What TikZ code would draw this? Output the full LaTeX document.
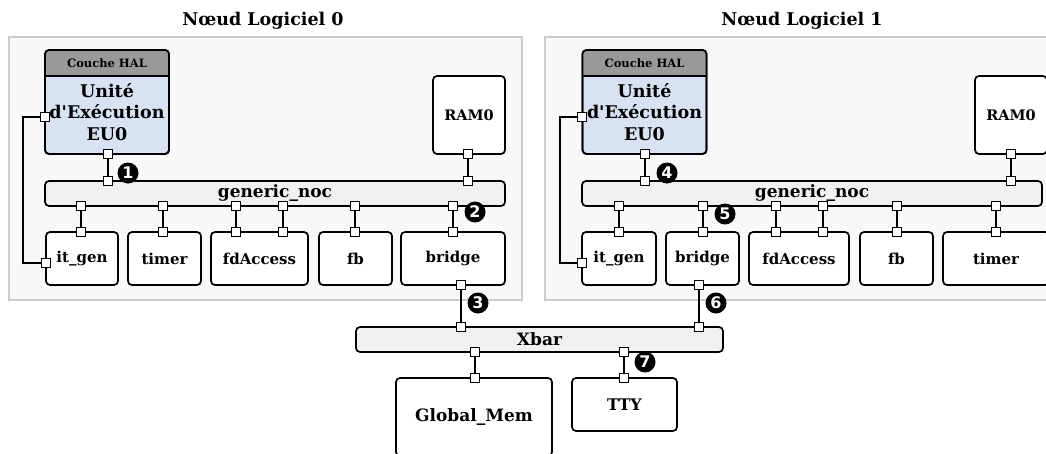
\documentclass[tikz,border=0pt]{standalone}
\usepackage{fontspec}
\setmainfont{DejaVu Serif}
\newfontfamily\numfont{DejaVu Sans}
\usepackage{tikz}
\usetikzlibrary{positioning}

\definecolor{panelfill}{HTML}{F8F8F8}
\definecolor{panelline}{HTML}{CCCCCC}
\definecolor{busfill}{HTML}{F0F0F0}
\definecolor{eufill}{HTML}{D8E2F3}
\definecolor{halfill}{HTML}{999999}

\begin{document}
\begin{tikzpicture}[
  x=1pt, y=-1pt,
  panel/.style={rectangle, draw=panelline, fill=panelfill, line width=1.3pt, minimum width=513pt, minimum height=263pt, inner sep=0pt, outer sep=0pt},
  title/.style={font=\bfseries\fontsize{17.5}{20}\selectfont},
  box/.style={rectangle, rounded corners=4pt, draw, line width=1.7pt, fill=white, align=center, inner sep=0pt, outer sep=0pt, font=\bfseries\fontsize{15}{18}\selectfont},
  unit/.style={box, fill=eufill, minimum width=124pt, minimum height=104pt},
  dev/.style={box, minimum height=53pt},
  bus/.style={box, fill=busfill, minimum height=25pt, font=\bfseries\fontsize{17}{19}\selectfont},
  port/.style={rectangle, draw, fill=white, line width=1.4pt, minimum size=9pt, inner sep=0pt, outer sep=0pt},
  link/.style={line width=2.3pt},
  numtag/.style={circle, fill=black, text=white, minimum size=21pt, inner sep=0pt, font=\numfont\bfseries\fontsize{16}{16}\selectfont}
]
\clip (0,0) rectangle (1046,453);

% panels
\node[panel] (panel0) at (265.5,168.5) {};
\node[panel] (panel1) at (801.5,168.5) {};
\node[title] (title0) at (263,21) {Nœud Logiciel 0};
\node[title] (title1) at (802,21) {Nœud Logiciel 1};

% execution units
\node[unit] (eu0) at (107,102) {};
\begin{scope}
  \clip (eu0.north west) rectangle ([yshift=-26pt]eu0.north east);
  \fill[halfill, rounded corners=4pt] (eu0.north west) rectangle (eu0.south east);
\end{scope}
\draw[line width=1.7pt] ([yshift=-26pt]eu0.north west) -- ([yshift=-26pt]eu0.north east);
\draw[line width=1.7pt, rounded corners=4pt] (eu0.north west) rectangle (eu0.south east);
\node[font=\bfseries\fontsize{11.5}{12}\selectfont] (hal0) at (107,63) {Couche HAL};
\node[align=center, font=\bfseries\fontsize{17.5}{21.5}\selectfont] (eulabel0) at (107,112) {Unité\\d\textquotesingle Exécution\\EU0};

\node[unit] (eu1) at (644.5,102) {};
\begin{scope}
  \clip (eu1.north west) rectangle ([yshift=-26pt]eu1.north east);
  \fill[halfill, rounded corners=4pt] (eu1.north west) rectangle (eu1.south east);
\end{scope}
\draw[line width=1.7pt] ([yshift=-26pt]eu1.north west) -- ([yshift=-26pt]eu1.north east);
\draw[line width=1.7pt, rounded corners=4pt] (eu1.north west) rectangle (eu1.south east);
\node[font=\bfseries\fontsize{11.5}{12}\selectfont] (hal1) at (644.5,63) {Couche HAL};
\node[align=center, font=\bfseries\fontsize{17.5}{21.5}\selectfont] (eulabel1) at (644.5,112) {Unité\\d\textquotesingle Exécution\\EU0};

% memories
\node[box, minimum width=72pt, minimum height=78pt, font=\bfseries\fontsize{14.5}{17}\selectfont] (ram0) at (469,115) {RAM0};
\node[box, minimum width=72pt, minimum height=78pt, font=\bfseries\fontsize{14.5}{17}\selectfont] (ram1) at (1011,115) {RAM0};

% on-chip networks
\node[bus, minimum width=460pt] (noc0) at (275,193.5) {generic\_noc};
\node[bus, minimum width=460pt] (noc1) at (812,193.5) {generic\_noc};

% devices, node 0
\node[dev, minimum width=72pt] (itgen0) at (82,258.5) {it\_gen};
\node[dev, minimum width=73pt] (timer0) at (164.5,258.5) {timer};
\node[dev, minimum width=97pt] (fdacc0) at (259.5,258.5) {fdAccess};
\node[dev, minimum width=73pt] (fb0) at (355.5,258.5) {fb};
\node[dev, minimum width=104pt] (bridge0) at (453,258.5) {bridge};

% devices, node 1
\node[dev, minimum width=74pt] (itgen1) at (619,258.5) {it\_gen};
\node[dev, minimum width=73pt] (bridge1) at (702.5,258.5) {bridge};
\node[dev, minimum width=100pt] (fdacc1) at (799,258.5) {fdAccess};
\node[dev, minimum width=73pt] (fb1) at (896.5,258.5) {fb};
\node[dev, minimum width=106pt] (timer1) at (996,258.5) {timer};

% shared part
\node[bus, minimum width=367pt] (xbar) at (539.5,339.5) {Xbar};
\node[box, minimum width=156pt, minimum height=78pt, font=\bfseries\fontsize{17}{19}\selectfont] (gmem) at (474,417) {Global\_Mem};
\node[box, minimum width=105pt, minimum height=53pt, font=\bfseries\fontsize{16}{18}\selectfont] (tty) at (624.5,404.5) {TTY};

% ports, node 0
\node[port] (eu0s) at (108,154) {};
\node[port] (eu0w) at (45,117) {};
\node[port] (ram0s) at (468,154) {};
\node[port] (noc0a) at (108,181) {};
\node[port] (noc0b) at (468,181) {};
\node[port] (noc0c) at (81,206) {};
\node[port] (noc0d) at (163,206) {};
\node[port] (noc0e) at (236,206) {};
\node[port] (noc0f) at (283,206) {};
\node[port] (noc0g) at (355,206) {};
\node[port] (noc0h) at (453,206) {};
\node[port] (itgen0n) at (81,232) {};
\node[port] (itgen0w) at (46,263) {};
\node[port] (timer0n) at (163,232) {};
\node[port] (fdacc0a) at (236,232) {};
\node[port] (fdacc0b) at (283,232) {};
\node[port] (fb0n) at (355,232) {};
\node[port] (bridge0n) at (453,232) {};
\node[port] (bridge0s) at (461,285) {};

% ports, node 1
\node[port] (eu1s) at (645,154) {};
\node[port] (eu1w) at (582,117) {};
\node[port] (ram1s) at (1011,154) {};
\node[port] (noc1a) at (645,181) {};
\node[port] (noc1b) at (1011,181) {};
\node[port] (noc1c) at (619,206) {};
\node[port] (noc1d) at (703,206) {};
\node[port] (noc1e) at (776,206) {};
\node[port] (noc1f) at (823,206) {};
\node[port] (noc1g) at (897,206) {};
\node[port] (noc1h) at (996,206) {};
\node[port] (itgen1n) at (619,232) {};
\node[port] (itgen1w) at (582,263) {};
\node[port] (bridge1n) at (703,232) {};
\node[port] (fdacc1a) at (776,232) {};
\node[port] (fdacc1b) at (823,232) {};
\node[port] (fb1n) at (897,232) {};
\node[port] (timer1n) at (996,232) {};
\node[port] (bridge1s) at (699,285) {};

% ports, shared part
\node[port] (xbara) at (461,327) {};
\node[port] (xbarb) at (699,327) {};
\node[port] (xbarc) at (475,352) {};
\node[port] (xbard) at (624,352) {};
\node[port] (gmemn) at (475,378) {};
\node[port] (ttyn) at (624,378) {};

% links, node 0
\draw[link] (eu0s) -- (noc0a);
\draw[link] (ram0s) -- (noc0b);
\draw[link] (noc0c) -- (itgen0n);
\draw[link] (noc0d) -- (timer0n);
\draw[link] (noc0e) -- (fdacc0a);
\draw[link] (noc0f) -- (fdacc0b);
\draw[link] (noc0g) -- (fb0n);
\draw[link] (noc0h) -- (bridge0n);
\coordinate (irq0) at (23,117);
\draw[link] (eu0w) -- (irq0) |- (itgen0w);

% links, node 1
\draw[link] (eu1s) -- (noc1a);
\draw[link] (ram1s) -- (noc1b);
\draw[link] (noc1c) -- (itgen1n);
\draw[link] (noc1d) -- (bridge1n);
\draw[link] (noc1e) -- (fdacc1a);
\draw[link] (noc1f) -- (fdacc1b);
\draw[link] (noc1g) -- (fb1n);
\draw[link] (noc1h) -- (timer1n);
\coordinate (irq1) at (560,117);
\draw[link] (eu1w) -- (irq1) |- (itgen1w);

% links, shared part
\draw[link] (bridge0s) -- (xbara);
\draw[link] (bridge1s) -- (xbarb);
\draw[link] (xbarc) -- (gmemn);
\draw[link] (xbard) -- (ttyn);

% numbered tags
\node[numtag] (tag1) at (128,173) {1};
\node[numtag] (tag2) at (475,212) {2};
\node[numtag] (tag3) at (478,303) {3};
\node[numtag] (tag4) at (667,173) {4};
\node[numtag] (tag5) at (725,214) {5};
\node[numtag] (tag6) at (716,303) {6};
\node[numtag] (tag7) at (645,362) {7};

\end{tikzpicture}
\end{document}
